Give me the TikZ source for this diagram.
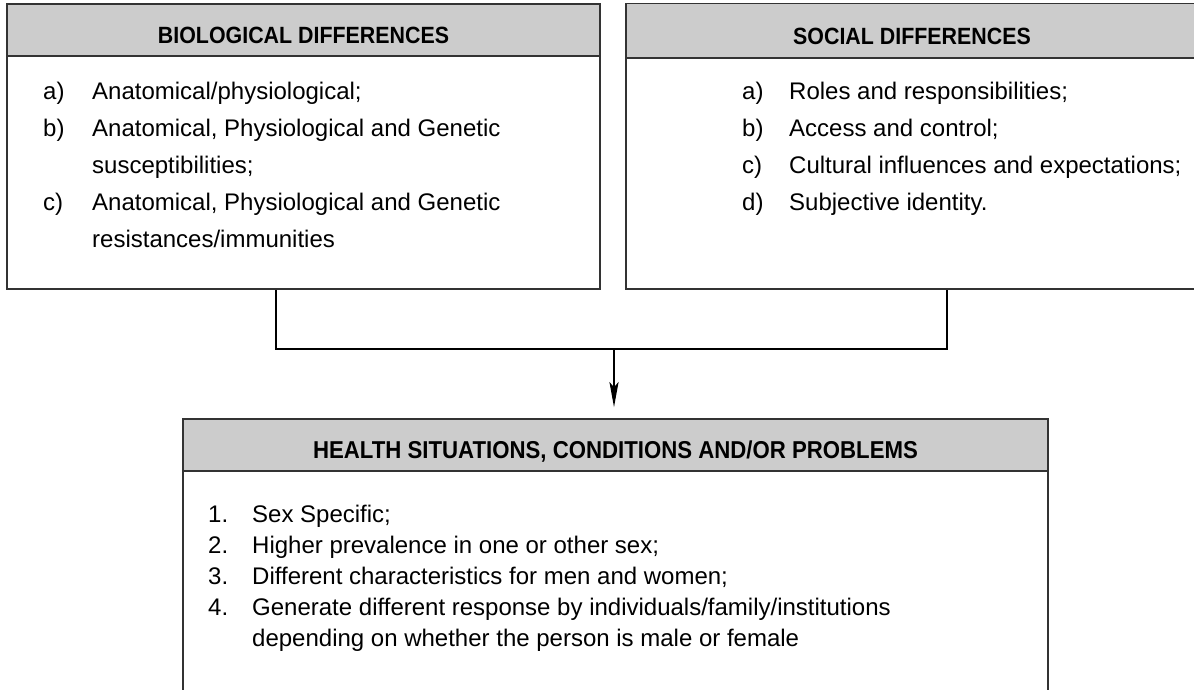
\documentclass[tikz,border=0pt]{standalone}
\usepackage{fontspec}
\setmainfont{Liberation Sans}
\newfontfamily\hdfont[FakeStretch=0.91]{Liberation Sans}
\usetikzlibrary{arrows.meta}
\definecolor{hdgray}{HTML}{CCCCCC}
\definecolor{bordc}{HTML}{333333}
\tikzset{
  boxbody/.style={draw=bordc, line width=1.6pt, fill=white, inner sep=0pt},
  boxhead/.style={draw=bordc, line width=1.6pt, fill=hdgray, inner sep=0pt},
  ttl/.style={anchor=base, inner sep=0pt, font=\hdfont\bfseries\fontsize{23.5}{28}\selectfont},
  itm/.style={anchor=base west, inner sep=0pt, font=\fontsize{24}{28}\selectfont},
  conn/.style={draw=black, line width=2.5pt},
}
\begin{document}
\begin{tikzpicture}[x=1pt,y=-1pt]
\useasboundingbox (0,0) rectangle (1194,689);
% boxes
\node[boxbody, minimum width=593pt, minimum height=285pt] (bio) at (303.5,146.5) {};
\node[boxhead, minimum width=593pt, minimum height=52pt] (bioh) at (303.5,30) {};
\node[boxbody, minimum width=572pt, minimum height=285.5pt] (soc) at (912,146.25) {};
\node[boxhead, minimum width=572pt, minimum height=54.5pt] (soch) at (912,30.75) {};
\node[boxbody, minimum width=865pt, minimum height=282pt] (hea) at (615.5,560) {};
\node[boxhead, minimum width=865pt, minimum height=52pt] (heah) at (615.5,445) {};
% titles
\node[ttl] (biot) at (303.5,43) {BIOLOGICAL DIFFERENCES};
\node[ttl] (soct) at (912,44) {SOCIAL DIFFERENCES};
\node[ttl, font=\hdfont\bfseries\fontsize{24.4}{28}\selectfont] (heat) at (615.5,458) {HEALTH SITUATIONS, CONDITIONS AND/OR PROBLEMS};
% biological list
\node[itm] (ba) at (43,99) {a)};
\node[itm] (bat) at (92,99) {Anatomical/physiological;};
\node[itm] (bb) at (43,136) {b)};
\node[itm] (bbt) at (92,136) {Anatomical, Physiological and Genetic};
\node[itm] (bbt2) at (92,173) {susceptibilities;};
\node[itm] (bc) at (43,210) {c)};
\node[itm] (bct) at (92,210) {Anatomical, Physiological and Genetic};
\node[itm] (bct2) at (92,247) {resistances/immunities};
% social list
\node[itm] (sa) at (742,99) {a)};
\node[itm] (sat) at (789,99) {Roles and responsibilities;};
\node[itm] (sb) at (742,136) {b)};
\node[itm] (sbt) at (789,136) {Access and control;};
\node[itm] (sc) at (742,173) {c)};
\node[itm] (sct) at (789,173) {Cultural influences and expectations;};
\node[itm] (sd) at (742,210) {d)};
\node[itm] (sdt) at (789,210) {Subjective identity.};
% health list
\node[itm] (h1) at (208,522) {1.};
\node[itm] (h1t) at (252,522) {Sex Specific;};
\node[itm] (h2) at (208,553) {2.};
\node[itm] (h2t) at (252,553) {Higher prevalence in one or other sex;};
\node[itm] (h3) at (208,584) {3.};
\node[itm] (h3t) at (252,584) {Different characteristics for men and women;};
\node[itm] (h4) at (208,615) {4.};
\node[itm] (h4t) at (252,615) {Generate different response by individuals/family/institutions};
\node[itm] (h4t2) at (252,646) {depending on whether the person is male or female};
% connectors
\coordinate (jl) at (276,349);
\coordinate (jr) at (947,349);
\coordinate (jm) at (614,349);
\draw[conn] (bio.south -| jl) -- (jl) -- (jr) -- (soc.south -| jr);
\draw[conn, -{Stealth[length=25pt, width=9pt, inset=5pt]}, shorten >=11pt] (jm) -- (jm |- heah.north);
\end{tikzpicture}
\end{document}
